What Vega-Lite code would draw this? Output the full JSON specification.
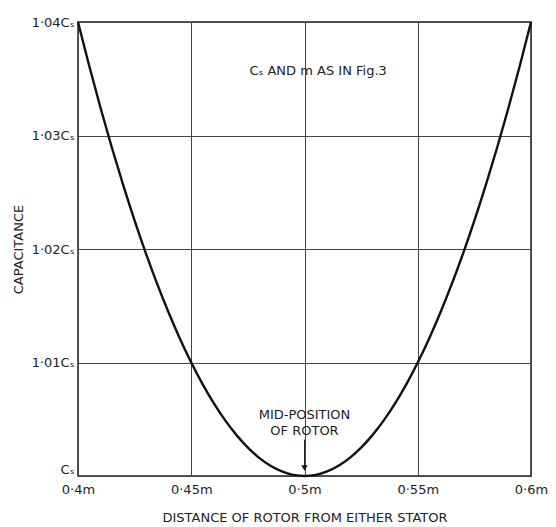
{
  "$schema": "https://vega.github.io/schema/vega-lite/v6.json",
  "autosize": "none",
  "width": 453,
  "height": 454,
  "padding": {"left": 78, "top": 22, "right": 25, "bottom": 51},
  "background": "white",
  "config": {
    "font": "DejaVu Sans",
    "view": {"stroke": "#222", "strokeWidth": 1.5}
  },
  "datasets": {
    "curve": [
      {"x": 0.400, "c": 4.00}, {"x": 0.405, "c": 3.61}, {"x": 0.410, "c": 3.24}, {"x": 0.415, "c": 2.89},
      {"x": 0.420, "c": 2.56}, {"x": 0.425, "c": 2.25}, {"x": 0.430, "c": 1.96}, {"x": 0.435, "c": 1.69},
      {"x": 0.440, "c": 1.44}, {"x": 0.445, "c": 1.21}, {"x": 0.450, "c": 1.00}, {"x": 0.455, "c": 0.81},
      {"x": 0.460, "c": 0.64}, {"x": 0.465, "c": 0.49}, {"x": 0.470, "c": 0.36}, {"x": 0.475, "c": 0.25},
      {"x": 0.480, "c": 0.16}, {"x": 0.485, "c": 0.09}, {"x": 0.490, "c": 0.04}, {"x": 0.495, "c": 0.01},
      {"x": 0.500, "c": 0.00}, {"x": 0.505, "c": 0.01}, {"x": 0.510, "c": 0.04}, {"x": 0.515, "c": 0.09},
      {"x": 0.520, "c": 0.16}, {"x": 0.525, "c": 0.25}, {"x": 0.530, "c": 0.36}, {"x": 0.535, "c": 0.49},
      {"x": 0.540, "c": 0.64}, {"x": 0.545, "c": 0.81}, {"x": 0.550, "c": 1.00}, {"x": 0.555, "c": 1.21},
      {"x": 0.560, "c": 1.44}, {"x": 0.565, "c": 1.69}, {"x": 0.570, "c": 1.96}, {"x": 0.575, "c": 2.25},
      {"x": 0.580, "c": 2.56}, {"x": 0.585, "c": 2.89}, {"x": 0.590, "c": 3.24}, {"x": 0.595, "c": 3.61},
      {"x": 0.600, "c": 4.00}
    ],
    "notes": [
      {"x": 0.506, "c": 3.57, "label": "Cₛ AND m AS IN Fig.3"},
      {"x": 0.5, "c": 0.54, "label": "MID-POSITION"},
      {"x": 0.5, "c": 0.40, "label": "OF ROTOR"}
    ],
    "arrow": [
      {"x": 0.5, "c1": 0.32, "c2": 0.07}
    ]
  },
  "layer": [
    {
      "data": {"name": "curve"},
      "mark": {"type": "line", "color": "#111", "strokeWidth": 2.4, "interpolate": "monotone"},
      "encoding": {
        "x": {
          "field": "x", "type": "quantitative",
          "scale": {"domain": [0.4, 0.6], "nice": false},
          "axis": {
            "values": [0.4, 0.45, 0.5, 0.55, 0.6],
            "labelExpr": "replace(format(datum.value, '.2~f'), '.', '·') + 'm'",
            "title": "DISTANCE OF ROTOR FROM EITHER STATOR",
            "titleFontSize": 13, "titleFontWeight": "normal", "titleColor": "#222",
            "titlePadding": 15,
            "labelFontSize": 13, "labelColor": "#222", "labelPadding": 7,
            "ticks": false, "domain": false,
            "grid": true, "gridColor": "#444", "gridWidth": 1,
            "labelFlush": false
          }
        },
        "y": {
          "field": "c", "type": "quantitative",
          "scale": {"domain": [0, 4], "nice": false},
          "axis": {
            "values": [0, 1, 2, 3, 4],
            "labelExpr": "datum.value == 0 ? 'Cₛ' : '1·0' + datum.value + 'Cₛ'",
            "labelBaseline": {"condition": {"test": "datum.value == 0", "value": "bottom"}, "value": "middle"},
            "title": "CAPACITANCE",
            "titleFontSize": 13, "titleFontWeight": "normal", "titleColor": "#222",
            "titlePadding": 6,
            "labelFontSize": 13, "labelColor": "#222", "labelPadding": 4,
            "ticks": false, "domain": false,
            "grid": true, "gridColor": "#444", "gridWidth": 1
          }
        }
      }
    },
    {
      "data": {"name": "notes"},
      "mark": {"type": "text", "fontSize": 13, "color": "#222"},
      "encoding": {
        "x": {"field": "x", "type": "quantitative"},
        "y": {"field": "c", "type": "quantitative"},
        "text": {"field": "label"}
      }
    },
    {
      "data": {"name": "arrow"},
      "mark": {"type": "rule", "color": "#222", "strokeWidth": 1},
      "encoding": {
        "x": {"field": "x", "type": "quantitative"},
        "y": {"field": "c1", "type": "quantitative"},
        "y2": {"field": "c2"}
      }
    },
    {
      "data": {"name": "arrow"},
      "mark": {"type": "point", "shape": "triangle-down", "filled": true, "color": "#111", "size": 40, "opacity": 1},
      "encoding": {
        "x": {"field": "x", "type": "quantitative"},
        "y": {"field": "c2", "type": "quantitative"}
      }
    }
  ]
}
